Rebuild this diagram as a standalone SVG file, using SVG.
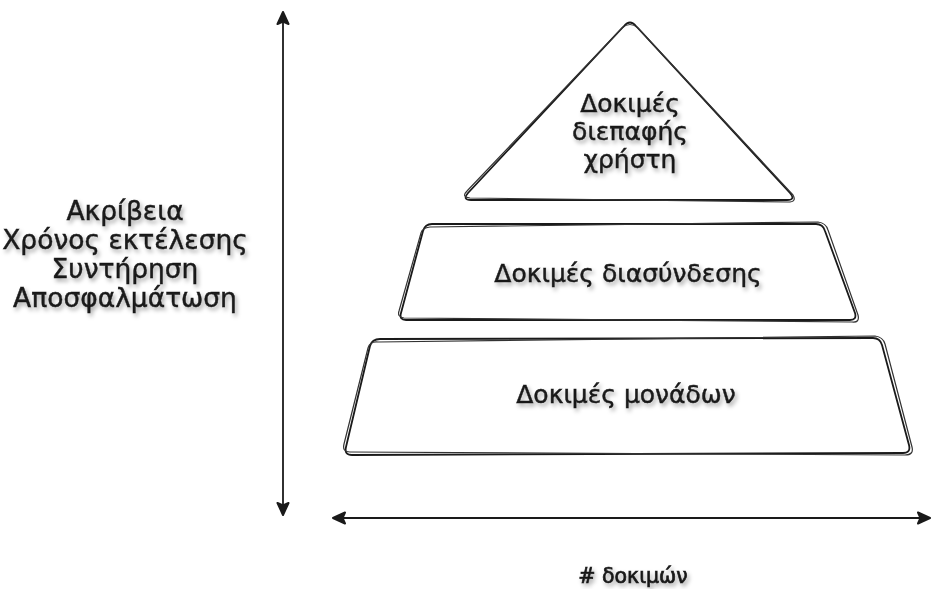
<svg xmlns="http://www.w3.org/2000/svg" width="932" height="589" viewBox="0 0 932 589">
<style>
.t{font-family:"DejaVu Sans","Noto Sans",sans-serif;font-size:25px;fill:#1a1a1a;stroke:#1a1a1a;stroke-width:0.45;text-anchor:middle}
.l{font-size:26.5px}
.b{font-size:20.5px;stroke-width:0.7}
.s{fill:none;stroke:#1a1a1a;stroke-width:1.8;stroke-linejoin:round;stroke-linecap:round}
.s2{fill:none;stroke:#333;stroke-width:1.2;stroke-linejoin:round;stroke-linecap:round}
.bg{fill:#fff;stroke:none}
.ax{fill:none;stroke:#1a1a1a;stroke-width:1.8}
</style>
<defs>
<filter id="sh" x="-20%" y="-30%" width="140%" height="160%">
<feDropShadow dx="2" dy="3" stdDeviation="2" flood-color="#000" flood-opacity="0.35"/>
</filter>
<marker id="ah" viewBox="0 0 14 14" refX="13" refY="7" markerWidth="14" markerHeight="14" markerUnits="userSpaceOnUse" orient="auto-start-reverse">
<path d="M1 1.5 L13 7 L1 12.5 L3.5 7 Z" fill="#1a1a1a" stroke="#1a1a1a" stroke-width="2" stroke-linejoin="round"/>
</marker>
</defs>
<rect width="932" height="589" fill="#fff"/>
<g id="connectors">
<line class="ax" x1="283" y1="12" x2="283" y2="515" marker-start="url(#ah)" marker-end="url(#ah)"/>
<line class="ax" x1="333" y1="518" x2="930" y2="518" marker-start="url(#ah)" marker-end="url(#ah)"/>
</g>
<g id="node-ui">
<path class="bg" d="M 624 26 Q 630 19 636 26 L 790 193 Q 796 200 787 200 L 471 200 Q 462 200 468 193 Z"/>
<path class="s" d="M 624 26 Q 630 19 636 26 L 790 193 Q 796 200 787 200 L 471 200 Q 462 200 468 193 Z"/>
<path class="s2" d="M 622 28 Q 630 21 638 28 L 793 195 Q 797 202 788 202 L 470 198 Q 461 197 467 191 Z"/>
<g filter="url(#sh)">
<text class="t" x="630" y="112">Δοκιμές</text>
<text class="t" x="630" y="140">διεπαφής</text>
<text class="t" x="630" y="168">χρήστη</text>
</g>
</g>
<g id="node-integration">
<path class="s" d="M 432 224 L 816 224 Q 823 224 825 231 L 855 313 Q 857 320 850 320 L 406 320 Q 399 320 401 313 L 423 231 Q 425 224 432 224 Z"/>
<path class="s2" d="M 430 227 L 818 222 Q 826 223 828 230 L 858 315 Q 860 323 852 322 L 404 318 Q 397 317 399 311 L 421 233 Q 422 228 430 227 Z"/>
<text class="t" x="628" y="282" filter="url(#sh)">Δοκιμές διασύνδεσης</text>
</g>
<g id="node-unit">
<path class="s" d="M 380 339 L 873 338 Q 880 338 882 345 L 909 445 Q 911 453 903 453 L 352 455 Q 344 455 346 447 L 370 346 Q 372 339 380 339 Z"/>
<path class="s2" d="M 378 342 L 875 336 Q 883 337 885 344 L 912 447 Q 914 455 905 455 L 350 452 Q 342 452 344 444 L 368 348 Q 370 341 378 342 Z"/>
<text class="t" x="626" y="403" filter="url(#sh)">Δοκιμές μονάδων</text>
</g>
<g id="label-left" filter="url(#sh)">
<text class="t l" x="125" y="220">Ακρίβεια</text>
<text class="t l" x="125" y="249">Χρόνος εκτέλεσης</text>
<text class="t l" x="125" y="278">Συντήρηση</text>
<text class="t l" x="125" y="307">Αποσφαλμάτωση</text>
</g>
<g id="label-bottom">
<text class="t b" x="633" y="583" filter="url(#sh)">#&#160;δοκιμών</text>
</g>
</svg>
